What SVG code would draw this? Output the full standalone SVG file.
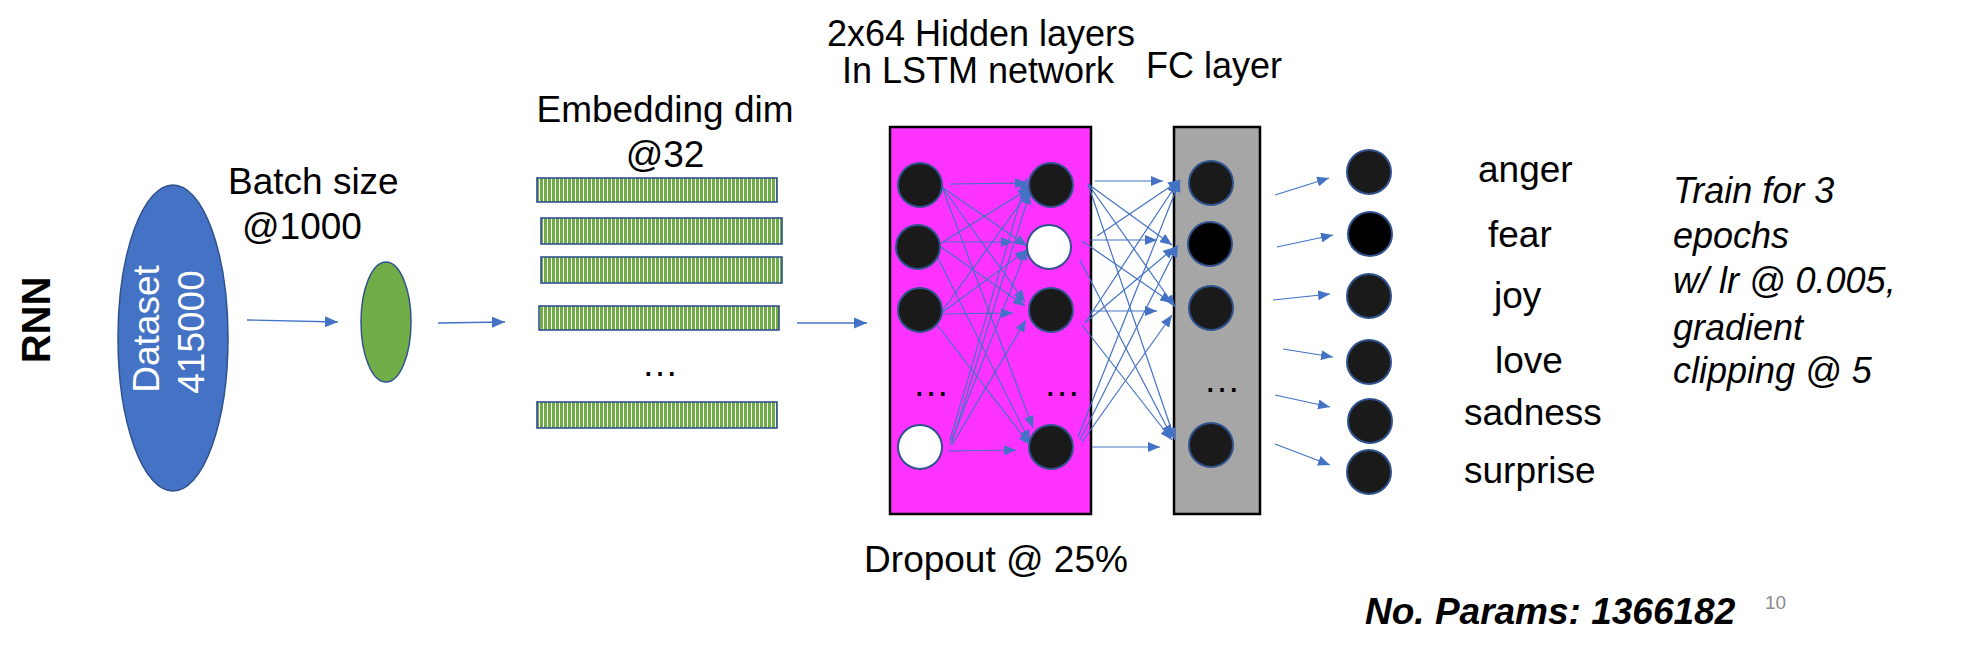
<svg xmlns="http://www.w3.org/2000/svg" width="1981" height="657" viewBox="0 0 1981 657">
<style>
text{font-family:"Liberation Sans",Arial,sans-serif;fill:#000}
.t{font-size:37px}
.it{font-size:36px;font-style:italic}
.c{stroke:#4472C4;stroke-width:1.2;fill:none;marker-end:url(#ah)}
.cb{stroke:#4472C4;stroke-width:1.3;fill:none;marker-end:url(#ahb)}
.n{fill:#1A1A1A;stroke:#2F528F;stroke-width:2}
.w{fill:#FFFFFF;stroke:#2F528F;stroke-width:2}
.bar{fill:url(#stripes);stroke:#2F528F;stroke-width:1.6}
</style>
<defs>
<marker id="ah" markerUnits="userSpaceOnUse" markerWidth="12" markerHeight="10" refX="12" refY="5" orient="auto"><path d="M0,0 L12,5 L0,10 z" fill="#4472C4"/></marker>
<marker id="ahb" markerUnits="userSpaceOnUse" markerWidth="13" markerHeight="11" refX="13" refY="5.5" orient="auto"><path d="M0,0 L13,5.5 L0,11 z" fill="#4472C4"/></marker>
<pattern id="stripes" patternUnits="userSpaceOnUse" width="4" height="10"><rect width="4" height="10" fill="#70AD47"/><rect x="3" width="1.1" height="10" fill="#FFFFFF"/></pattern>
</defs>
<rect width="1981" height="657" fill="#FFFFFF"/>

<g id="title"><text transform="translate(50,320) rotate(-90)" text-anchor="middle" font-size="40" font-weight="bold">RNN</text></g>

<g id="dataset">
<ellipse cx="173" cy="338" rx="55" ry="153" fill="#4472C4" stroke="#2F528F" stroke-width="1.5"/>
<text transform="translate(159,329) rotate(-90)" text-anchor="middle" font-size="37" style="fill:#FFFFFF">Dataset</text>
<text transform="translate(204,332) rotate(-90)" text-anchor="middle" font-size="37" style="fill:#FFFFFF">415000</text>
</g>

<g id="batch">
<text class="t" x="228" y="194" font-size="36">Batch size</text>
<text class="t" x="242" y="239">@1000</text>
<ellipse cx="386" cy="322" rx="25" ry="60" fill="#70AD47" stroke="#2F528F" stroke-width="1.5"/>
</g>

<g id="embedding">
<text class="t" x="665" y="122" text-anchor="middle">Embedding dim</text>
<text class="t" x="665" y="167" text-anchor="middle">@32</text>
<rect class="bar" x="537" y="178" width="240" height="24"/>
<rect class="bar" x="541" y="218" width="241" height="26"/>
<rect class="bar" x="541" y="257" width="241" height="26"/>
<rect class="bar" x="539" y="306" width="240" height="24"/>
<text class="t" x="660" y="376" text-anchor="middle">…</text>
<rect class="bar" x="537" y="402" width="240" height="26"/>
</g>

<g id="lstm">
<text x="981" y="46" text-anchor="middle" font-size="36">2x64 Hidden layers</text>
<text x="978" y="83" text-anchor="middle" font-size="36">In LSTM network</text>
<rect x="890" y="127" width="201" height="387" fill="#FF33FF" stroke="#000" stroke-width="2.5"/>
<text class="t" x="996" y="572" text-anchor="middle">Dropout @ 25%</text>
</g>

<g id="fc">
<text x="1214" y="78" text-anchor="middle" font-size="36">FC layer</text>
<rect x="1174" y="127" width="86" height="387" fill="#A6A6A6" stroke="#000" stroke-width="2.5"/>
</g>

<g id="connectors">
<line class="cb" x1="247" y1="320" x2="338" y2="322"/>
<line class="cb" x1="438" y1="323" x2="505" y2="322"/>
<line class="cb" x1="797" y1="323" x2="867" y2="323"/>
<!-- pink internal -->
<line class="c" x1="950" y1="184" x2="1027" y2="183"/>
<line class="c" x1="945" y1="242" x2="1013" y2="242"/>
<line class="c" x1="940" y1="314" x2="1013" y2="313"/>
<line class="c" x1="948" y1="451" x2="1016" y2="450"/>
<line class="c" x1="942" y1="187" x2="1027" y2="246"/>
<line class="c" x1="942" y1="187" x2="1025" y2="302"/>
<line class="c" x1="942" y1="187" x2="1033" y2="428"/>
<line class="c" x1="938" y1="245" x2="1030" y2="188"/>
<line class="c" x1="938" y1="245" x2="1025" y2="306"/>
<line class="c" x1="938" y1="258" x2="1030" y2="442"/>
<line class="c" x1="940" y1="314" x2="1030" y2="190"/>
<line class="c" x1="940" y1="314" x2="1027" y2="250"/>
<line class="c" x1="937" y1="325" x2="1030" y2="445"/>
<line class="c" x1="950" y1="440" x2="1027" y2="178"/>
<line class="c" x1="952" y1="442" x2="1030" y2="192"/>
<line class="c" x1="950" y1="445" x2="1027" y2="248"/>
<line class="c" x1="952" y1="445" x2="1026" y2="320"/>
<!-- pink to FC -->
<line class="c" x1="1095" y1="181" x2="1163" y2="181"/>
<line class="c" x1="1090" y1="240" x2="1157" y2="240"/>
<line class="c" x1="1090" y1="311" x2="1157" y2="311"/>
<line class="c" x1="1092" y1="447" x2="1160" y2="447"/>
<line class="c" x1="1088" y1="184" x2="1172" y2="245"/>
<line class="c" x1="1088" y1="184" x2="1175" y2="307"/>
<line class="c" x1="1088" y1="184" x2="1175" y2="440"/>
<line class="c" x1="1097" y1="236" x2="1180" y2="180"/>
<line class="c" x1="1082" y1="241" x2="1172" y2="303"/>
<line class="c" x1="1080" y1="260" x2="1172" y2="437"/>
<line class="c" x1="1085" y1="323" x2="1178" y2="182"/>
<line class="c" x1="1085" y1="323" x2="1175" y2="247"/>
<line class="c" x1="1082" y1="325" x2="1172" y2="440"/>
<line class="c" x1="1078" y1="437" x2="1180" y2="180"/>
<line class="c" x1="1080" y1="440" x2="1178" y2="245"/>
<line class="c" x1="1082" y1="442" x2="1172" y2="315"/>
<!-- FC to output -->
<line class="c" x1="1275" y1="195" x2="1329" y2="178"/>
<line class="c" x1="1277" y1="247" x2="1333" y2="235"/>
<line class="c" x1="1273" y1="300" x2="1330" y2="294"/>
<line class="c" x1="1283" y1="349" x2="1333" y2="357"/>
<line class="c" x1="1275" y1="395" x2="1330" y2="407"/>
<line class="c" x1="1275" y1="444" x2="1330" y2="465"/>
</g>

<g id="lstm-nodes">
<circle class="n" cx="920" cy="185" r="22"/>
<circle class="n" cx="918" cy="247" r="22"/>
<circle class="n" cx="920" cy="310" r="22"/>
<text class="t" x="931" y="396" text-anchor="middle">…</text>
<circle class="w" cx="920" cy="447" r="22"/>
<circle class="n" cx="1051" cy="185" r="22"/>
<circle class="w" cx="1049" cy="247" r="22"/>
<circle class="n" cx="1051" cy="310" r="22"/>
<text class="t" x="1062" y="396" text-anchor="middle">…</text>
<circle class="n" cx="1051" cy="447" r="22"/>
</g>

<g id="fc-nodes">
<circle class="n" cx="1211" cy="183" r="22"/>
<circle class="n" cx="1210" cy="244" r="22" style="fill:#000"/>
<circle class="n" cx="1211" cy="308" r="22"/>
<text class="t" x="1222" y="392" text-anchor="middle">…</text>
<circle class="n" cx="1211" cy="445" r="22"/>
</g>

<g id="outputs">
<circle class="n" cx="1369" cy="172" r="22"/>
<circle class="n" cx="1370" cy="234" r="22" style="fill:#000"/>
<circle class="n" cx="1369" cy="296" r="22"/>
<circle class="n" cx="1369" cy="362" r="22"/>
<circle class="n" cx="1370" cy="421" r="22"/>
<circle class="n" cx="1369" cy="472" r="22"/>
<text class="t" x="1478" y="182">anger</text>
<text class="t" x="1488" y="247">fear</text>
<text class="t" x="1494" y="308">joy</text>
<text class="t" x="1495" y="373">love</text>
<text class="t" x="1464" y="425">sadness</text>
<text class="t" x="1464" y="483">surprise</text>
</g>

<g id="notes">
<text class="it" x="1673" y="203">Train for 3</text>
<text class="it" x="1673" y="248">epochs</text>
<text class="it" x="1673" y="293">w/ lr @ 0.005,</text>
<text class="it" x="1673" y="340">gradient</text>
<text class="it" x="1673" y="383">clipping @ 5</text>
<text x="1365" y="624" font-size="37" font-weight="bold" font-style="italic">No. Params: 1366182</text>
<text x="1765" y="609" font-size="19" style="fill:#8B8B8B">10</text>
</g>
</svg>
